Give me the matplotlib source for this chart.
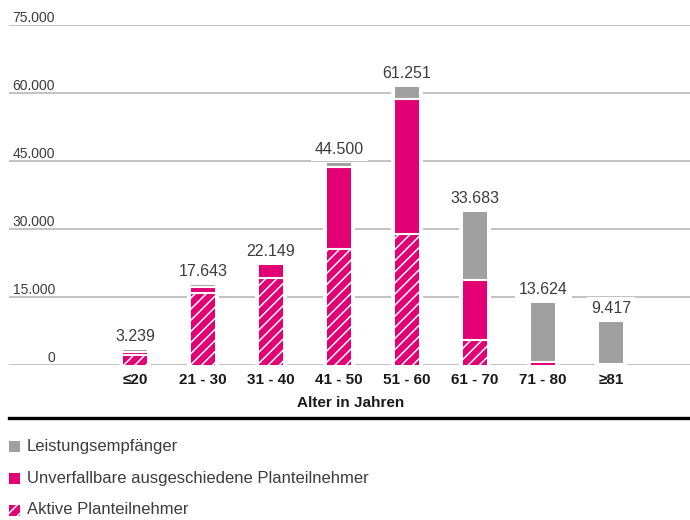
import matplotlib
matplotlib.use("Agg")
import matplotlib.pyplot as plt
from matplotlib.patches import Rectangle
from matplotlib.lines import Line2D

plt.rcParams['font.family'] = ['Liberation Sans', 'DejaVu Sans']
plt.rcParams['hatch.linewidth'] = 1.1

# --- data -------------------------------------------------------------
categories = ["≤20", "21 - 30", "31 - 40", "41 - 50", "51 - 60", "61 - 70", "71 - 80", "≥81"]
aktive = [2300, 15963, 19200, 25600, 29000, 5500, 0, 0]
unverfallbar = [520, 1290, 2949, 18150, 29600, 13300, 680, 250]
leistung = [419, 390, 0, 750, 2651, 14883, 12944, 9167]
totals = [3239, 17643, 22149, 44500, 61251, 33683, 13624, 9417]
total_labels = ["3.239", "17.643", "22.149", "44.500", "61.251", "33.683", "13.624", "9.417"]
y_ticks = [0, 15000, 30000, 45000, 60000, 75000]
y_tick_labels = ["0", "15.000", "30.000", "45.000", "60.000", "75.000"]
legend_labels = ["Leistungsempfänger", "Unverfallbare ausgeschiedene Planteilnehmer",
                 "Aktive Planteilnehmer"]

MAGENTA = "#e20074"
GREY = "#a0a0a0"
GRID = "#bdbdbd"
TEXT = "#3c3c3c"

W, H = 690, 520
fig = plt.figure(figsize=(W / 100, H / 100), dpi=100)
ax = fig.add_axes([9 / W, (H - 365) / H, (W - 9) / W, (365 - 25) / H])
ax.set_ylim(0, 75000)
ax.set_xlim(-1.853, 8.16)
ax.axis("off")

# grid lines with value labels sitting on top of them
for v, lab in zip(y_ticks, y_tick_labels):
    ax.axhline(v, color=GRID, lw=1.3, zorder=0)
    ax.annotate(lab, xy=(0.0675, v), xycoords=ax.get_yaxis_transform(),
                xytext=(0, 2.2), textcoords="offset points",
                ha="right", va="baseline", fontsize=10, color=TEXT)

x = list(range(len(categories)))
bw = 0.353
halo = bw + 8 / 68

# white band behind each stack interrupts the grid lines
ax.bar(x, totals, width=halo, color="white", zorder=1)

bottom2 = [a + u for a, u in zip(aktive, unverfallbar)]
ax.bar(x, aktive, width=bw, color=MAGENTA, edgecolor="white", linewidth=0,
       hatch="///", zorder=2)
ax.bar(x, unverfallbar, width=bw, bottom=aktive, color=MAGENTA,
       edgecolor="white", linewidth=0, zorder=2)
ax.bar(x, leistung, width=bw, bottom=bottom2, color=GREY,
       edgecolor="white", linewidth=0, zorder=2)

# thin white gaps between the stacked segments
for i in x:
    segs = [aktive[i], unverfallbar[i], leistung[i]]
    level = 0
    for s in segs[:-1]:
        level += s
        if s > 0 and level < totals[i]:
            ax.hlines(level, i - bw / 2, i + bw / 2, color="white", lw=1.5, zorder=3)

# totals above the bars
for i, (t, lab) in enumerate(zip(totals, total_labels)):
    ax.annotate(lab, xy=(i, t), xytext=(0, 6.5), textcoords="offset points",
                ha="center", va="baseline", fontsize=11.5, color=TEXT, zorder=4,
                bbox=dict(boxstyle="square,pad=0.25", fc="white", ec="none"))

# category labels
for i, c in enumerate(categories):
    ax.annotate(c, xy=(i, 0), xytext=(0, -6), textcoords="offset points",
                ha="center", va="top", fontsize=11, fontweight="bold", color="#1a1a1a")

fig.text(351 / W, 1 - 403 / H, "Alter in Jahren", ha="center", va="center",
         fontsize=11, fontweight="bold", color="#1a1a1a")

fig.add_artist(Line2D([9 / W, 1.0], [1 - 418 / H, 1 - 418 / H],
                      transform=fig.transFigure, color="black", lw=2.4))

# legend
leg_styles = [dict(fc=GREY, hatch=None), dict(fc=MAGENTA, hatch=None),
              dict(fc=MAGENTA, hatch="///")]
for k, (lab, st) in enumerate(zip(legend_labels, leg_styles)):
    yc = 446 + 32 * k
    fig.add_artist(Rectangle((9 / W, 1 - (yc + 5.5) / H), 11 / W, 11 / H,
                             transform=fig.transFigure, facecolor=st["fc"],
                             edgecolor="white", linewidth=0, hatch=st["hatch"]))
    fig.text(27 / W, 1 - yc / H, lab, ha="left", va="center", fontsize=12, color=TEXT)

fig.savefig("out.png", dpi=100)
